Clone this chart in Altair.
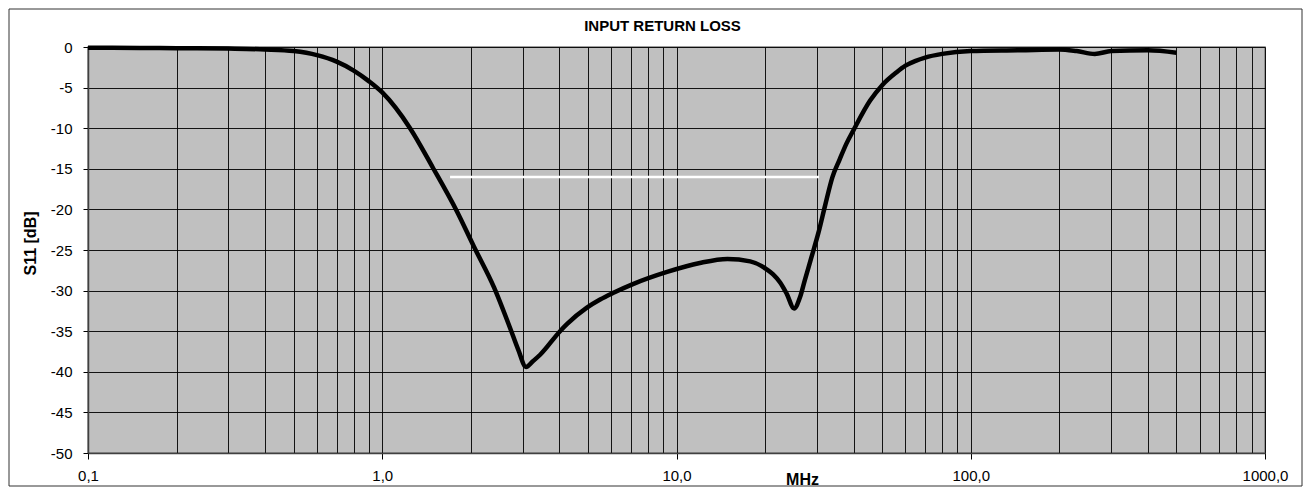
import altair as alt
import pandas as pd

# Measured S11 curve (frequency in MHz, S11 in dB)
freq_mhz = [0.1, 0.15, 0.2, 0.3, 0.4, 0.5, 0.6, 0.7, 0.8, 0.9, 1.0, 1.243, 1.488, 1.791,
            2.05, 2.398, 2.719, 2.9, 3.08, 3.25, 3.44, 4.02, 4.25, 4.96, 5.5, 6.08,
            7.11, 9.29, 12.0, 14.9, 17.8, 20.3, 21.3, 22.5, 23.7, 25.1, 26.3, 27.3,
            28.8, 30.35, 32.0, 33.9, 35.8, 37.8, 40.0, 45.5, 50.0, 56.0, 60.0, 65.0,
            70.0, 80.0, 100.0, 147.0, 200.0, 229.0, 264.0, 300.0, 400.0, 500.0]
s11_db = [-0.1, -0.12, -0.15, -0.2, -0.3, -0.5, -1.0, -1.8, -2.9, -4.2, -5.6, -10.0, -14.9,
          -20.2, -24.6, -29.6, -34.6, -37.3, -39.4, -38.7, -37.9, -35.0, -34.1, -32.1,
          -31.1, -30.3, -29.2, -27.7, -26.6, -26.1, -26.4, -27.4, -28.0, -29.0, -30.4,
          -32.2, -30.8, -28.7, -25.8, -22.9, -19.5, -16.0, -13.9, -11.9, -10.2, -6.6,
          -4.7, -3.1, -2.3, -1.7, -1.3, -0.85, -0.5, -0.4, -0.3, -0.5, -0.85, -0.5,
          -0.4, -0.7]

# Specification limit line
spec_freq = [1.7, 30.5]
spec_level = [-16, -16]

# Axis ticks
x_decades = [0.1, 1, 10, 100, 1000]
x_multipliers = [1, 2, 3, 4, 5, 6, 7, 8, 9]
y_ticks = [0, -5, -10, -15, -20, -25, -30, -35, -40, -45, -50]

x_grid = []
for d in x_decades[:-1]:
    for m in x_multipliers:
        x_grid.append(round(d * m, 6))
x_grid.append(x_decades[-1])

FONT = "Liberation Sans"
DEC = "abs(log(datum.value)/LN10 - round(log(datum.value)/LN10)) < 0.001"

curve_df = pd.DataFrame({"f": freq_mhz, "s11": s11_db})
spec_df = pd.DataFrame({"f": spec_freq, "s11": spec_level})

x_scale = alt.Scale(type="log", domain=[0.1, 1000])
y_scale = alt.Scale(domain=[-50, 0])

x_axis = alt.Axis(
    values=x_grid,
    grid=True, gridColor="black", gridWidth=1, gridOpacity=0.9,
    tickSize=6, tickColor="black",
    tickOpacity={"condition": {"test": DEC, "value": 1}, "value": 0},
    labelExpr=f"({DEC}) ? replace(format(datum.value, '.1f'), '.', ',') : ''",
    labelFont=FONT, labelFontSize=15, labelColor="black", labelPadding=9,
    labelFlush=False, labelOverlap=False,
    domainColor="#404040", domainWidth=1.5,
    title="MHz", titleFont=FONT, titleFontSize=16, titleFontWeight="bold",
    titleColor="black", titleX=714, titleY=26, titleBaseline="middle", titleAlign="center",
)

y_axis = alt.Axis(
    values=y_ticks,
    grid=True, gridColor="black", gridWidth=1, gridOpacity=0.9,
    tickSize=5, tickColor="black",
    labelExpr="'' + datum.value",
    labelFont=FONT, labelFontSize=15, labelColor="black", labelPadding=11,
    domainColor="#404040", domainWidth=1.5,
    title="S11 [dB]", titleFont=FONT, titleFontSize=16, titleFontWeight="bold",
    titleColor="black", titlePadding=12, titleY=196, titleAlign="center",
)

curve = alt.Chart(curve_df).mark_line(color="black", strokeWidth=4.5, interpolate="monotone").encode(
    x=alt.X("f:Q", scale=x_scale, axis=x_axis),
    y=alt.Y("s11:Q", scale=y_scale, axis=y_axis),
)

spec = alt.Chart(spec_df).mark_line(color="white", strokeWidth=2.5).encode(
    x=alt.X("f:Q", scale=x_scale),
    y=alt.Y("s11:Q", scale=y_scale),
)

frame = alt.Chart(pd.DataFrame({"k": [0]})).mark_rect(
    filled=False, stroke="#333333", strokeWidth=1, clip=False
).encode(
    x=alt.value(-79), x2=alt.value(1214), y=alt.value(-38), y2=alt.value(439)
)

chart = alt.layer(spec, curve, frame).properties(
    width=1177,
    height=406,
    autosize=alt.AutoSizeParams(type="none"),
    padding={"left": 80, "top": 39, "right": 38, "bottom": 34},
    title=alt.TitleParams(
        "INPUT RETURN LOSS", font=FONT, fontSize=15, fontWeight="bold", color="black",
        anchor="middle", dx=-14, offset=-37.5, frame="group", baseline="alphabetic",
    ),
    background="white",
).configure_view(
    fill="#C0C0C0", stroke="#808080", strokeWidth=1.5
)

chart.save("out.html", embed_options={"renderer": "svg", "actions": False})
